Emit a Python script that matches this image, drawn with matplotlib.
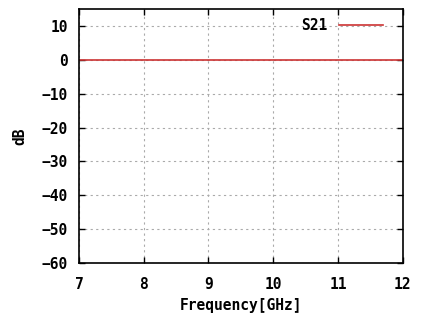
import numpy as np
import matplotlib.pyplot as plt

freq = [7.0, 8.0, 9.0, 10.0, 11.0, 12.0]
s21 = [0.0, 0.0, 0.0, 0.0, 0.0, 0.0]
xticks = [7, 8, 9, 10, 11, 12]
yticks = [-60, -50, -40, -30, -20, -10, 0, 10]

plt.rcParams['font.family'] = ['DejaVu Sans Mono']
plt.rcParams['font.weight'] = 'bold'

fig = plt.figure(figsize=(4.29, 3.22), dpi=100)
ax = fig.add_axes([0.184, 0.183, 0.755, 0.789])
ax.plot(freq, s21, color='#cc3333', lw=1.2, label='S21')
ax.set_xlim(7, 12)
ax.set_ylim(-60, 15)
ax.set_xticks(xticks)
ax.set_yticks(yticks)
ax.tick_params(direction='in', top=True, right=True, length=4, width=1, labelsize=10.5)
ax.tick_params(axis='x', pad=10)
ax.tick_params(axis='y', pad=8)
for lab in ax.get_xticklabels() + ax.get_yticklabels():
    lab.set_fontweight('bold')
ax.grid(True, color='#aaaaaa', linestyle=(0, (2, 3)), lw=0.8)
for s in ax.spines.values():
    s.set_linewidth(1.2)
ax.set_xlabel('Frequency[GHz]', fontsize=10.5, fontweight='bold', labelpad=4)
ax.set_ylabel('dB', fontsize=10.5, fontweight='bold', labelpad=10)
leg = ax.legend(loc='upper right', frameon=False, markerfirst=False, fontsize=10.5,
                handlelength=3.0, handletextpad=0.8, borderaxespad=0.2,
                bbox_to_anchor=(0.965, 1.0))
for t in leg.get_texts():
    t.set_fontweight('bold')
fig.savefig('out.png', dpi=100)
